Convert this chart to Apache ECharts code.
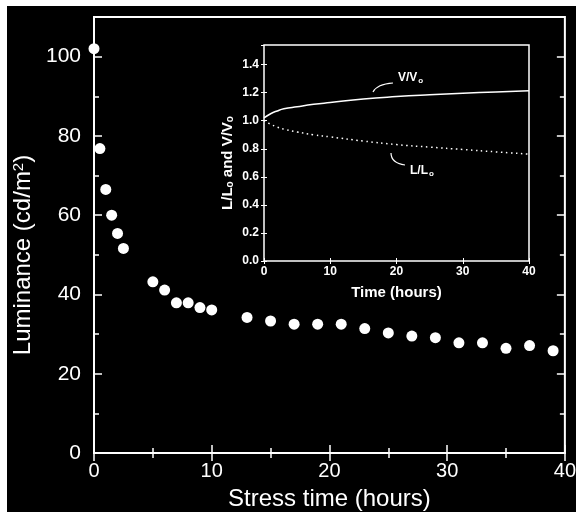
<!DOCTYPE html>
<html>
<head>
<meta charset="utf-8">
<script src="https://cdn.jsdelivr.net/npm/echarts@6/dist/echarts.min.js"></script>
<style>
  html, body { margin: 0; padding: 0; background: #fff; }
  #chart { width: 579px; height: 518px; }
</style>
</head>
<body>
<div id="chart"></div>
<script>
// main plot: luminance vs stress time
const stressTime = [0, 0.5, 1, 1.5, 2, 2.5, 5, 6, 7, 8, 9, 10, 13, 15, 17, 19, 21, 23, 25, 27, 29, 31, 33, 35, 37, 39];
const luminance = [102, 76.8, 66.5, 60, 55.4, 51.6, 43.2, 41.1, 37.9, 37.9, 36.7, 36.1, 34.2, 33.3, 32.5, 32.5, 32.5, 31.4, 30.3, 29.5, 29.1, 27.8, 27.8, 26.4, 27.1, 25.8];
const yMajorTicks = [0, 20, 40, 60, 80, 100];
const yMinorTicks = [10, 30, 50, 70, 90];

// inset: normalised voltage and luminance
const insetTime = [0, 1, 2, 3, 5, 7.5, 10, 15, 20, 25, 30, 35, 40];
const voltageRatio = [1.02, 1.05, 1.07, 1.085, 1.1, 1.117, 1.13, 1.155, 1.172, 1.185, 1.196, 1.205, 1.214];
const lumRatio = [1.0, 0.975, 0.955, 0.94, 0.92, 0.9, 0.885, 0.855, 0.83, 0.812, 0.795, 0.778, 0.762];

const font = "'Liberation Sans', Arial, sans-serif";
const white = "#fff";

const pairs = (xs, ys) => xs.map((x, i) => [x, ys[i]]);

const chart = echarts.init(document.getElementById("chart"));

const tickLine = { color: white, width: 1.5 };

chart.setOption({
  animation: false,
  textStyle: { fontFamily: font },
  grid: [
    {
      left: 94, right: 11, top: 17, bottom: 65,
      show: true, borderColor: white, borderWidth: 2,
    },
    {
      left: 264, right: 50, top: 45, bottom: 257,
      show: true, borderColor: white, borderWidth: 1.5,
    },
  ],
  xAxis: [
    {
      gridIndex: 0, type: "value", min: 0, max: 40, interval: 10, position: "bottom",
      axisLine: { show: false },
      axisTick: { inside: true, length: 8, lineStyle: tickLine },
      minorTick: { show: true, splitNumber: 2, length: 5, lineStyle: tickLine },
      splitLine: { show: false },
      axisLabel: { color: white, fontSize: 20, margin: 8, fontFamily: font },
      name: "Stress time (hours)", nameLocation: "middle", nameGap: 34,
      nameTextStyle: { color: white, fontSize: 24, fontFamily: font },
    },
    {
      gridIndex: 0, type: "value", min: 0, max: 40, interval: 10, position: "top",
      axisLine: { show: false },
      axisTick: { inside: true, length: 8, lineStyle: tickLine },
      minorTick: { show: true, splitNumber: 2, length: 5, lineStyle: tickLine },
      splitLine: { show: false },
      axisLabel: { show: false },
    },
    {
      gridIndex: 1, type: "value", min: 0, max: 40, interval: 10, position: "bottom",
      axisLine: { show: false },
      axisTick: { inside: true, length: 3, lineStyle: { color: white, width: 1 } },
      splitLine: { show: false },
      axisLabel: { color: white, fontSize: 12, fontWeight: "bold", margin: 5, fontFamily: font },
      name: "Time (hours)", nameLocation: "middle", nameGap: 24,
      nameTextStyle: { color: white, fontSize: 15, fontWeight: "bold", fontFamily: font },
    },
    {
      gridIndex: 1, type: "value", min: 0, max: 40, interval: 10, position: "top",
      axisLine: { show: false },
      axisTick: { inside: true, length: 3, lineStyle: { color: white, width: 1 } },
      splitLine: { show: false },
      axisLabel: { show: false },
    },
  ],
  yAxis: [
    {
      gridIndex: 0, type: "value", min: 0, max: 110, interval: 20, position: "left",
      axisLine: { show: false },
      axisTick: { inside: true, length: 8, lineStyle: tickLine, customValues: yMajorTicks },
      splitLine: { show: false },
      axisLabel: { color: white, fontSize: 21, margin: 13, fontFamily: font, customValues: yMajorTicks },
      name: "Luminance (cd/m{p|2})", nameLocation: "middle", nameGap: 49,
      nameTextStyle: {
        color: white, fontSize: 24, fontFamily: font, padding: [0, 40, 0, 0],
        rich: { p: { color: white, fontSize: 15, fontFamily: font, verticalAlign: "top", lineHeight: 17 } },
      },
    },
    {
      gridIndex: 0, type: "value", min: 0, max: 110, position: "left",
      axisLine: { show: false },
      axisTick: { inside: true, length: 5, lineStyle: tickLine, customValues: yMinorTicks },
      splitLine: { show: false },
      axisLabel: { show: false },
    },
    {
      gridIndex: 0, type: "value", min: 0, max: 110, position: "right",
      axisLine: { show: false },
      axisTick: { inside: true, length: 8, lineStyle: tickLine, customValues: yMajorTicks },
      splitLine: { show: false },
      axisLabel: { show: false },
    },
    {
      gridIndex: 0, type: "value", min: 0, max: 110, position: "right",
      axisLine: { show: false },
      axisTick: { inside: true, length: 5, lineStyle: tickLine, customValues: yMinorTicks },
      splitLine: { show: false },
      axisLabel: { show: false },
    },
    {
      gridIndex: 1, type: "value", min: 0, max: 1.54, interval: 0.2, position: "left",
      axisLine: { show: false },
      axisTick: { inside: true, length: 3, lineStyle: { color: white, width: 1 } },
      splitLine: { show: false },
      axisLabel: {
        color: white, fontSize: 12, fontWeight: "bold", margin: 5, fontFamily: font,
        showMaxLabel: false, formatter: (v) => v.toFixed(1),
      },
      name: "L/L{s|o} and V/V{s|o}", nameLocation: "middle", nameGap: 29,
      nameTextStyle: {
        color: white, fontSize: 15, fontWeight: "bold", fontFamily: font, padding: [0, 20, 0, 0],
        rich: { s: { color: white, fontSize: 10, fontWeight: "bold", fontFamily: font, verticalAlign: "bottom", lineHeight: 13 } },
      },
    },
    {
      gridIndex: 1, type: "value", min: 0, max: 1.54, interval: 0.2, position: "right",
      axisLine: { show: false },
      axisTick: { inside: true, length: 3, lineStyle: { color: white, width: 1 } },
      splitLine: { show: false },
      axisLabel: { show: false },
    },
  ],
  series: [
    {
      type: "scatter", xAxisIndex: 0, yAxisIndex: 0,
      data: pairs(stressTime, luminance),
      symbolSize: 11,
      itemStyle: { color: white, opacity: 1 },
    },
    {
      type: "line", xAxisIndex: 2, yAxisIndex: 4,
      data: pairs(insetTime, voltageRatio),
      smooth: true, showSymbol: false,
      lineStyle: { color: white, width: 1.5 },
    },
    {
      type: "line", xAxisIndex: 2, yAxisIndex: 4,
      data: pairs(insetTime, lumRatio),
      smooth: true, showSymbol: false,
      lineStyle: { color: white, width: 1.5, type: [1.5, 3.5] },
    },
  ],
  graphic: [
    { type: "rect", z: -10, shape: { x: 7, y: 6, width: 569, height: 506 }, style: { fill: "#000" } },
    {
      type: "text", left: 398, top: 72,
      style: {
        text: "{n|V/V}{s|o}", fill: white,
        rich: {
          n: { fill: white, fontSize: 12, fontWeight: "bold", fontFamily: font },
          s: { fill: white, fontSize: 8, fontWeight: "bold", fontFamily: font, verticalAlign: "bottom", padding: [6, 0, 0, 1] },
        },
      },
    },
    {
      type: "bezierCurve",
      shape: { x1: 373, y1: 92, cpx1: 377, cpy1: 84, x2: 393, y2: 83 },
      style: { stroke: white, lineWidth: 1.2, fill: null },
    },
    {
      type: "text", left: 410, top: 165,
      style: {
        text: "{n|L/L}{s|o}", fill: white,
        rich: {
          n: { fill: white, fontSize: 12, fontWeight: "bold", fontFamily: font },
          s: { fill: white, fontSize: 8, fontWeight: "bold", fontFamily: font, verticalAlign: "bottom", padding: [6, 0, 0, 1] },
        },
      },
    },
    {
      type: "bezierCurve",
      shape: { x1: 391, y1: 153, cpx1: 391, cpy1: 163, x2: 405, y2: 165 },
      style: { stroke: white, lineWidth: 1.2, fill: null },
    },
  ],
});
</script>
</body>
</html>
